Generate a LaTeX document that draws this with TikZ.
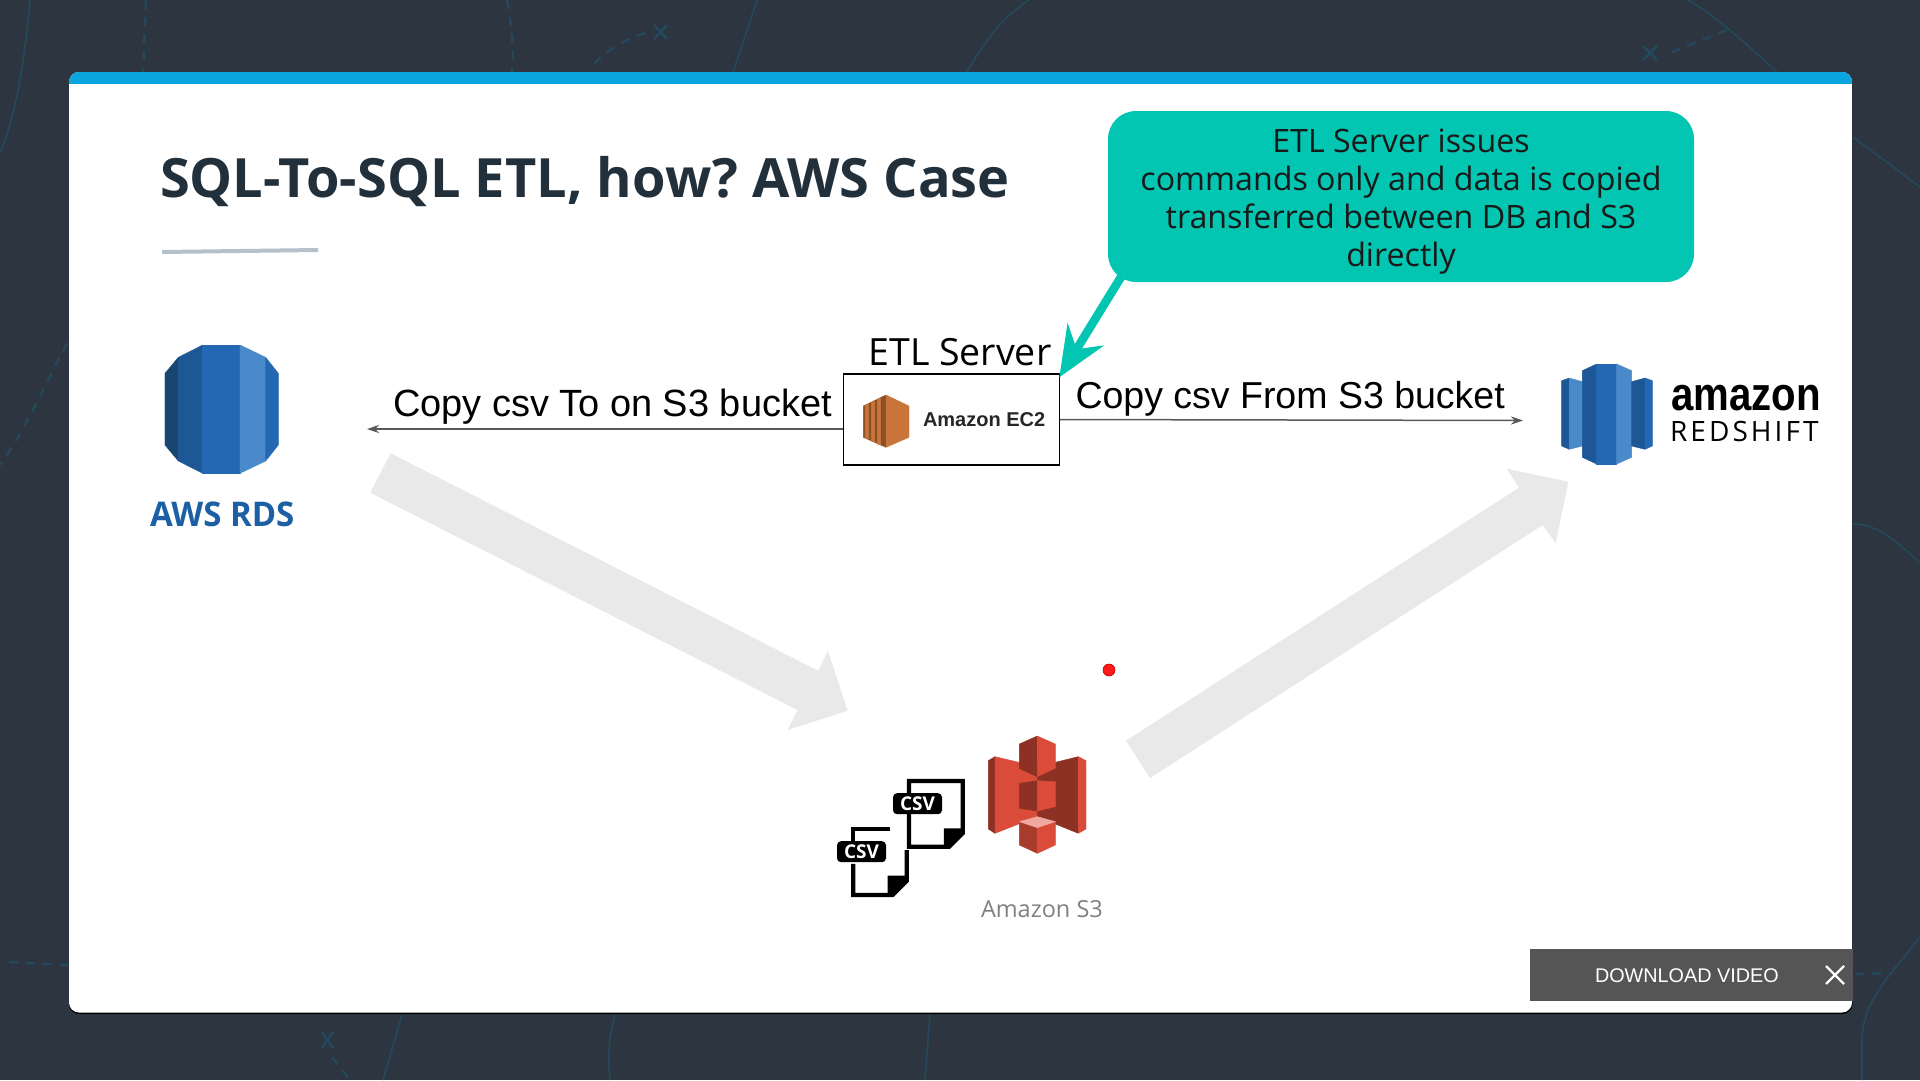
\documentclass[tikz,border=0pt]{standalone}
\usepackage{fontspec}
\usepackage{graphicx}
\usetikzlibrary{arrows.meta}
\setmainfont{Open Sans}
\newfontfamily\arialf{Liberation Sans}
\newcommand{\fsz}[2][]{\fontsize{#2}{#2}\selectfont}
\definecolor{bgdark}{HTML}{2D3540}
\definecolor{bgline}{HTML}{25495C}
\definecolor{topbar}{HTML}{0AA5DE}
\definecolor{titlecol}{HTML}{22303C}
\definecolor{rule}{HTML}{B4C0CA}
\definecolor{tealc}{HTML}{02C5B2}
\definecolor{arrowgray}{HTML}{E9E9E9}
\definecolor{blueA}{HTML}{194670}
\definecolor{blueB}{HTML}{1E5796}
\definecolor{blueC}{HTML}{2468B4}
\definecolor{blueD}{HTML}{4A89CA}
\definecolor{rdstext}{HTML}{1C5FA5}
\definecolor{redL}{HTML}{DB4B3A}
\definecolor{redD}{HTML}{8C3123}
\definecolor{redM}{HTML}{A93B2C}
\definecolor{redT}{HTML}{F0A79F}
\definecolor{orangeL}{HTML}{C9743A}
\definecolor{orangeD}{HTML}{8A5026}
\definecolor{barcol}{HTML}{555555}
\tikzset{
  x=1pt,y=-1pt,
  lbl/.style={inner sep=0pt,outer sep=0pt,anchor=base west},
  ff/.style={fill=#1,draw=#1,line width=0.4pt,line join=round},
  bgsolid/.style={draw=bgline,line width=1.6pt},
  bgdash/.style={draw=bgline,line width=2.4pt,dash pattern=on 9pt off 8pt},
  bgx/.style={draw=bgline,line width=2.6pt},
  thinarrow/.style={draw=black!65,line width=1.5pt,-{Stealth[length=12pt,width=8pt]}},
  graypoly/.style={fill=arrowgray,draw=none},
  docline/.style={draw=black,line width=4.2pt,line join=miter},
}
\frenchspacing
\begin{document}
\begin{tikzpicture}
\useasboundingbox (0,0) rectangle (1920,1080);
\fill[bgdark] (0,0) rectangle (1920,1080);
% background pattern
\draw[bgsolid] (30,0) .. controls (24,70) and (14,120) .. (0,153);
\draw[bgdash] (146,0) -- (143,72);
\draw[bgdash] (507,0) .. controls (512,25) and (514,50) .. (512,72);
\draw[bgdash] (645,33) .. controls (625,40) and (605,50) .. (592,67);
\draw[bgx] (654,25) -- (667,39) (667,25) -- (654,39);
\draw[bgsolid] (757,0) -- (733,72);
\draw[bgsolid] (1029,0) .. controls (1005,15) and (985,40) .. (967,72);
\draw[bgsolid] (1688,0) .. controls (1710,12) and (1740,38) .. (1777,72);
\draw[bgdash] (1727,30) -- (1672,52);
\draw[bgx] (1643,46) -- (1657,60) (1657,46) -- (1643,60);
\draw[bgsolid] (1853,137) -- (1920,187);
\draw[bgdash] (67,343) .. controls (45,385) and (25,430) .. (0,465);
\draw[bgsolid] (1853,524) .. controls (1880,524) and (1900,545) .. (1920,563);
\draw[bgsolid] (1920,937) .. controls (1895,970) and (1862,1000) .. (1862,1040) -- (1862,1080);
\draw[bgdash] (1855,974) -- (1893,973);
\draw[bgdash] (9,962) -- (69,965);
\draw[bgx] (322,1032) -- (333,1048) (333,1032) -- (322,1048);
\draw[bgdash] (332,1057) -- (350,1080);
\draw[bgsolid] (402,1015) -- (383,1080);
\draw[bgsolid] (615,1015) .. controls (608,1040) and (608,1060) .. (610,1080);
\draw[bgsolid] (930,1013) -- (925,1080);
% card
\fill[black,rounded corners=10pt] (69,74) rectangle (1852.5,1014);
\fill[white,rounded corners=10pt] (69,72) rectangle (1852,1012.5);
\begin{scope}
  \clip[rounded corners=10pt] (69,72) rectangle (1852,1012.5);
  \fill[topbar] (69,72) rectangle (1852,84);
\end{scope}
% title
\node[lbl,text=titlecol] (title) at (160,197) {\fsz{54.15}\bfseries SQL-To-SQL ETL, how? AWS Case};
\fill[rule] (162,250) -- (318,248) -- (318,252) -- (162,254) -- cycle;
% gray arrows
\fill[graypoly] (390.7,453.3) -- (370.3,492.7) -- (797.6,710) -- (787.6,730) -- (847.6,710.7) -- (828,651) -- (818,670.7) -- cycle;
\fill[graypoly] (1126,740.7) -- (1150,778) -- (1542.7,525) -- (1555.7,543.3) -- (1568.3,481.7) -- (1506.7,468.7) -- (1519,487.7) -- cycle;
% red dot
\node[circle,fill=red!90!white,draw=red!70!black,line width=0.6pt,minimum size=12pt,inner sep=0pt] (dot) at (1109,670) {};
% RDS icon
\begin{scope}[shift={(120,320)},x=0.3333pt,y=-0.3333pt]
  \path[ff=blueA] (135,160) -- (175,112) -- (175,423) -- (135,375) -- cycle;
  \path[ff=blueB] (175,112) -- (248,75) -- (248,460) -- (175,423) -- cycle;
  \path[ff=blueC] (248,75) -- (360,75) -- (360,460) -- (248,460) -- cycle;
  \path[ff=blueD] (360,75) -- (437,112) -- (437,423) -- (360,460) -- cycle;
  \path[ff=blueC] (437,112) -- (475,160) -- (475,375) -- (437,423) -- cycle;
\end{scope}
\node[lbl,text=rdstext] (rdslabel) at (150,526.7) {\scalebox{0.97}[1]{\fsz{34}\bfseries AWS RDS}};
% Redshift icon
\begin{scope}[shift={(1540,340)},x=0.3333pt,y=-0.3333pt]
  \path[ff=blueB] (65,122) -- (88,114) -- (88,328) -- (65,318) -- cycle;
  \path[ff=blueD] (88,114) -- (127,125) -- (127,318) -- (88,328) -- cycle;
  \path[ff=blueB] (127,92) -- (170,72) -- (170,372) -- (127,352) -- cycle;
  \path[ff=blueC] (170,72) -- (230,72) -- (230,372) -- (170,372) -- cycle;
  \path[ff=blueD] (230,72) -- (275,92) -- (275,352) -- (230,372) -- cycle;
  \path[ff=blueB] (275,125) -- (315,114) -- (315,328) -- (275,318) -- cycle;
  \path[ff=blueC] (315,114) -- (337,122) -- (337,318) -- (315,328) -- cycle;
\end{scope}
\node[lbl,text=black] (amz) at (1671,410) {\scalebox{0.855}[1]{\arialf\fsz{47}\bfseries amazon}};
\node[lbl,text=black] (rsft) at (1670,441.7) {\fsz{28}\addfontfeature{LetterSpace=11}REDSHIFT};
% EC2 box
\node[draw=black,line width=1.6pt,fill=white,minimum width=216pt,minimum height=91pt,inner sep=0pt] (ec2) at (951.3,419.5) {};
\begin{scope}[shift={(830,330)},x=0.3333pt,y=-0.3333pt]
  \path[ff=orangeD] (100,228) -- (168,195) -- (168,352) -- (100,322) -- cycle;
  \path[ff=orangeL] (106,226) -- (116,221) -- (116,327) -- (106,324) -- cycle;
  \path[ff=orangeL] (124,217) -- (134,212) -- (134,336) -- (124,333) -- cycle;
  \path[ff=orangeL] (142,208) -- (152,203) -- (152,345) -- (142,342) -- cycle;
  \path[ff=orangeL] (168,195) -- (237,228) -- (237,322) -- (168,352) -- cycle;
\end{scope}
\node[lbl,text=black!85] (ec2text) at (923,426.7) {\arialf\fsz{20}\bfseries Amazon EC2};
\node[lbl] (etl) at (868.5,365) {\fsz{37.5}ETL Server};
% connectors
\coordinate (rdsend) at (367,429);
\coordinate (rsend) at (1523,420.5);
\draw[thinarrow] (ec2.west |- rdsend) -- (rdsend);
\draw[thinarrow] (ec2.east) -- (rsend);
\node[lbl] (ltxt) at (393,416) {\arialf\fsz{37.95}Copy csv To on S3 bucket};
\node[lbl] (rtxt) at (1075.5,408) {\arialf\fsz{37.5}Copy csv From S3 bucket};
% callout
\node[fill=tealc,rounded corners=28pt,minimum width=586pt,minimum height=171pt,inner sep=0pt] (callout) at (1401,196.5) {};
\node[inner sep=0pt,align=center,text=black!90,font=\fontsize{32.2}{38}\selectfont] (callouttext) at (1401,201.6)
  {ETL Server issues\\commands only and data is copied\\transferred between DB and S3\\directly};
\coordinate (tealstart) at (1121,277);
\coordinate (tealtip) at (1059.3,377.3);
\draw[draw=tealc,line width=8.6pt,-{Stealth[length=50pt,width=42pt,inset=17pt]}] (tealstart) -- (tealtip);
% S3 icon
\begin{scope}[shift={(975,725)},x=0.3333pt,y=-0.3333pt]
  \path[ff=redD] (40,107) -- (60,95) -- (60,325) -- (40,312) -- cycle;
  \path[ff=redL] (60,95) -- (187,125) -- (187,275) -- (60,325) -- cycle;
  \path[ff=redD] (187,125) -- (310,95) -- (310,325) -- (187,275) -- cycle;
  \path[ff=redL] (310,95) -- (333,107) -- (333,312) -- (310,325) -- cycle;
  \path[ff=redD] (133,175) -- (187,167) -- (187,258) -- (133,250) -- cycle;
  \path[ff=redL] (187,167) -- (241,170) -- (241,245) -- (187,258) -- cycle;
  \fill[black!60!redD] (133,130) -- (187,122) -- (241,130) -- (187,155) -- cycle;
  \path[ff=redD] (133,57) -- (187,33) -- (187,155) -- (133,130) -- cycle;
  \path[ff=redL] (187,33) -- (241,57) -- (241,130) -- (187,155) -- cycle;
  \path[ff=redM] (133,290) -- (187,308) -- (187,385) -- (133,360) -- cycle;
  \path[ff=redL] (187,308) -- (241,290) -- (241,360) -- (187,385) -- cycle;
  \path[ff=redT] (133,290) -- (187,275) -- (241,290) -- (187,308) -- cycle;
\end{scope}
\node[lbl,text=black!50] (s3text) at (981,917.7) {\fsz{23.5}Amazon S3};
% CSV files
\begin{scope}[shift={(820,720)},x=0.3333pt,y=-0.3333pt]
  \draw[docline] (267,222) -- (267,183) -- (428,183) -- (428,340) -- (388,380) -- (267,380) -- (267,280);
  \fill[black] (372,325) -- (428,325) -- (428,340) -- (388,380) -- (372,380) -- cycle;
  \draw[docline] (210,326) -- (100,326) -- (100,365);
  \draw[docline] (100,432) -- (100,525) -- (218,525) -- (260,483) -- (260,390);
  \fill[black] (203,467) -- (260,467) -- (260,483) -- (218,525) -- (203,525) -- cycle;
\end{scope}
\node[fill=black,rounded corners=4pt,minimum width=49pt,minimum height=21pt,inner sep=0pt,text=white] (csvA) at (917.5,803.7) {\fsz{19}\bfseries CSV};
\node[fill=black,rounded corners=4pt,minimum width=49pt,minimum height=21pt,inner sep=0pt,text=white] (csvB) at (861.5,851.7) {\fsz{19}\bfseries CSV};
% download bar
\fill[barcol] (1530,949) rectangle (1852.7,1000.7);
\node[lbl,text=white] (dl) at (1595,982.7) {\arialf\fsz{19.8}DOWNLOAD VIDEO};
\draw[white,line width=2.4pt] (1826,966) -- (1844,984) (1844,966) -- (1826,984);
\end{tikzpicture}
\end{document}
